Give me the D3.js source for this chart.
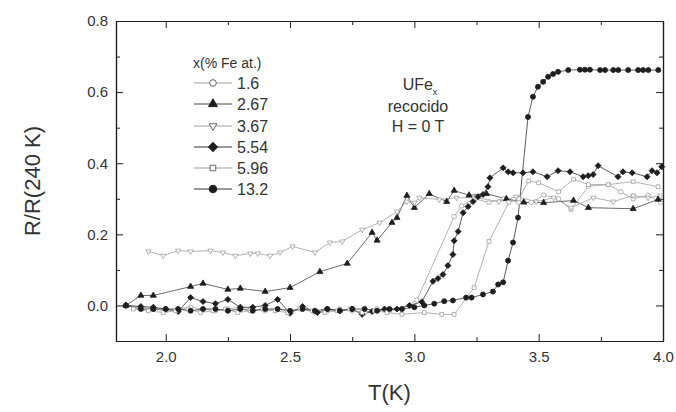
<!DOCTYPE html>
<html>
<head>
<meta charset="utf-8">
<script src="https://cdn.jsdelivr.net/npm/d3@7"></script>
<style>
  html, body { margin: 0; padding: 0; background: #fff; }
  svg { display: block; font-family: "Liberation Sans", Arial, sans-serif; }
</style>
</head>
<body>
<svg id="chart" width="676" height="412"></svg>
<script>
// ---------------- data ----------------
const seriesNames = ["1.6", "2.67", "3.67", "5.54", "5.96", "13.2"];

const t16  = [1.84,1.90,1.95,2.00,2.05,2.10,2.15,2.20,2.25,2.30,2.35,2.40,2.45,2.50,2.55,2.60,2.65,2.70,2.75,2.80,2.85,2.90,2.95,3.01,3.16,3.19,3.24,3.30,3.36,3.42,3.47,3.52,3.58,3.63,3.70,3.78,3.83,3.88,3.94,3.99];
const r16  = [0.00,-0.005,-0.01,-0.015,-0.01,-0.005,-0.01,-0.015,-0.01,-0.005,-0.01,-0.015,-0.01,-0.015,-0.01,-0.02,-0.015,-0.01,-0.015,-0.02,-0.01,-0.015,-0.01,0.015,0.25,0.28,0.30,0.29,0.30,0.29,0.29,0.31,0.30,0.27,0.335,0.34,0.32,0.30,0.31,0.29];

const t267 = [1.84,1.90,1.95,2.10,2.15,2.25,2.30,2.40,2.50,2.62,2.73,2.83,2.85,2.91,2.93,2.97,3.00,3.06,3.13,3.16,3.22,3.29,3.37,3.44,3.52,3.64,3.70,3.88,3.98];
const r267 = [0.00,0.028,0.028,0.053,0.062,0.045,0.048,0.039,0.05,0.095,0.118,0.205,0.183,0.233,0.247,0.309,0.275,0.314,0.292,0.323,0.31,0.314,0.30,0.29,0.289,0.295,0.275,0.272,0.298];

const t367 = [1.93,1.99,2.05,2.10,2.18,2.23,2.28,2.34,2.37,2.42,2.46,2.51,2.60,2.66,2.71,2.79,2.86,2.93,2.97,3.00,3.02,3.10,3.17,3.25,3.34,3.41,3.49,3.56,3.63,3.72,3.80,3.88,3.94,3.99];
const r367 = [0.152,0.14,0.154,0.152,0.154,0.149,0.14,0.146,0.146,0.14,0.149,0.166,0.149,0.177,0.18,0.213,0.233,0.264,0.292,0.289,0.303,0.298,0.303,0.303,0.292,0.306,0.292,0.303,0.275,0.303,0.292,0.309,0.303,0.309];

const t554 = [1.84,1.90,1.95,2.00,2.05,2.10,2.15,2.20,2.25,2.30,2.35,2.40,2.45,2.50,2.55,2.61,2.65,2.70,2.75,2.79,2.83,2.88,2.93,2.98,3.03,3.075,3.095,3.115,3.135,3.155,3.16,3.176,3.196,3.216,3.236,3.256,3.276,3.296,3.304,3.357,3.377,3.397,3.437,3.477,3.534,3.578,3.626,3.679,3.699,3.719,3.739,3.819,3.839,3.876,3.936,3.956,3.976,3.995];
const r554 = [0.00,-0.003,-0.005,-0.01,-0.017,0.022,0.011,0.005,0.017,-0.005,-0.005,0.00,0.017,-0.022,-0.003,-0.02,-0.01,-0.015,-0.01,-0.025,-0.017,-0.01,-0.01,0.00,0.01,0.068,0.076,0.087,0.112,0.143,0.182,0.208,0.261,0.278,0.292,0.306,0.312,0.334,0.359,0.387,0.376,0.373,0.373,0.376,0.362,0.379,0.376,0.362,0.365,0.368,0.393,0.362,0.376,0.373,0.362,0.379,0.373,0.39];

const t596 = [1.87,1.93,1.99,2.04,2.09,2.14,2.19,2.24,2.29,2.34,2.39,2.44,2.49,2.54,2.59,2.64,2.69,2.74,2.79,2.84,2.89,2.95,3.04,3.11,3.16,3.24,3.30,3.38,3.42,3.46,3.50,3.58,3.64,3.70,3.78,3.88,3.98];
const r596 = [-0.01,-0.015,-0.02,-0.015,-0.01,-0.02,-0.015,-0.01,-0.02,-0.015,-0.01,-0.015,-0.02,-0.01,-0.015,-0.02,-0.015,-0.01,-0.02,-0.015,-0.02,-0.025,-0.02,-0.025,-0.025,0.05,0.18,0.29,0.30,0.35,0.345,0.32,0.355,0.34,0.34,0.348,0.334];

const t132 = [1.84,1.90,1.95,2.00,2.05,2.10,2.15,2.20,2.25,2.30,2.35,2.40,2.45,2.50,2.55,2.60,2.65,2.70,2.75,2.80,2.85,2.90,2.95,3.00,3.04,3.08,3.12,3.155,3.208,3.23,3.276,3.316,3.337,3.357,3.377,3.397,3.417,3.457,3.477,3.497,3.518,3.538,3.558,3.578,3.619,3.666,3.686,3.706,3.747,3.767,3.80,3.82,3.86,3.90,3.92,3.941,3.981];
const r132 = [0.00,-0.01,-0.01,-0.01,-0.01,-0.015,-0.01,-0.01,-0.015,-0.01,-0.015,-0.01,-0.01,-0.015,-0.01,-0.015,-0.01,-0.015,-0.01,-0.01,-0.015,-0.01,-0.01,-0.005,0.00,0.005,0.012,0.014,0.022,0.022,0.031,0.039,0.059,0.065,0.126,0.177,0.247,0.53,0.587,0.615,0.629,0.643,0.651,0.657,0.662,0.663,0.663,0.663,0.662,0.662,0.662,0.662,0.662,0.662,0.662,0.662,0.662];

const xTicks = [2.0, 2.5, 3.0, 3.5, 4.0];
const xMinorTicks = [2.25, 2.75, 3.25, 3.75];
const yTicks = [0.0, 0.2, 0.4, 0.6, 0.8];
const yMinorTicks = [-0.1, 0.1, 0.3, 0.5, 0.7];
const legendTitle = "x(% Fe at.)";
const annotation = ["recocido", "H = 0 T"];

// ---------------- scales ----------------
const x = d3.scaleLinear().domain([1.8, 4.0]).range([116, 663]);
const y = d3.scaleLinear().domain([-0.1, 0.8]).range([341, 21]);

const svg = d3.select("#chart");
const ink = "#1e1e1e";
const grey = "#a0a0a0";

const styles = [
  {t: t16,  r: r16,  shape: d3.symbolCircle,   rot: 0,   fill: "#fff", stroke: grey, line: grey,  size: 16},
  {t: t267, r: r267, shape: d3.symbolTriangle, rot: 0,   fill: ink,    stroke: ink,  line: "#444", size: 16},
  {t: t367, r: r367, shape: d3.symbolTriangle, rot: 180, fill: "#fff", stroke: grey, line: grey,  size: 12},
  {t: t554, r: r554, shape: d3.symbolSquare,   rot: 45,  fill: ink,    stroke: ink,  line: "#333", size: 18},
  {t: t596, r: r596, shape: d3.symbolSquare,   rot: 0,   fill: "#fff", stroke: grey, line: grey,  size: 14},
  {t: t132, r: r132, shape: d3.symbolCircle,   rot: 0,   fill: ink,    stroke: ink,  line: "#333", size: 20}
];

// ---------------- axes ----------------
function styleAxis(g) {
  g.selectAll("path.domain").attr("stroke", ink).attr("stroke-width", 1.2);
  g.selectAll(".tick line").attr("stroke", ink).attr("stroke-width", 1);
  g.selectAll(".tick text").attr("fill", "#333").style("font-size", "15px")
    .style("font-family", "'Liberation Sans', Arial, sans-serif");
}
const fmt = d3.format(".1f");

svg.append("g").attr("transform", `translate(0,${y(-0.1)})`)
  .call(d3.axisBottom(x).tickValues(xTicks).tickFormat(fmt).tickSizeInner(-7).tickSizeOuter(0).tickPadding(10))
  .call(styleAxis);
svg.append("g").attr("transform", `translate(0,${y(-0.1)})`)
  .call(d3.axisBottom(x).tickValues(xMinorTicks).tickFormat("").tickSizeInner(-4).tickSizeOuter(0))
  .call(styleAxis);
svg.append("g").attr("transform", `translate(0,${y(0.8)})`)
  .call(d3.axisTop(x).tickValues(xTicks).tickFormat("").tickSizeInner(-7).tickSizeOuter(0))
  .call(styleAxis);
svg.append("g").attr("transform", `translate(0,${y(0.8)})`)
  .call(d3.axisTop(x).tickValues(xMinorTicks).tickFormat("").tickSizeInner(-4).tickSizeOuter(0))
  .call(styleAxis);

svg.append("g").attr("transform", `translate(${x(1.8)},0)`)
  .call(d3.axisLeft(y).tickValues(yTicks).tickFormat(fmt).tickSizeInner(-7).tickSizeOuter(0).tickPadding(8))
  .call(styleAxis);
svg.append("g").attr("transform", `translate(${x(1.8)},0)`)
  .call(d3.axisLeft(y).tickValues(yMinorTicks).tickFormat("").tickSizeInner(-4).tickSizeOuter(0))
  .call(styleAxis);
svg.append("g").attr("transform", `translate(${x(4.0)},0)`)
  .call(d3.axisRight(y).tickValues(yTicks).tickFormat("").tickSizeInner(-7).tickSizeOuter(0))
  .call(styleAxis);
svg.append("g").attr("transform", `translate(${x(4.0)},0)`)
  .call(d3.axisRight(y).tickValues(yMinorTicks).tickFormat("").tickSizeInner(-4).tickSizeOuter(0))
  .call(styleAxis);

// axis titles
svg.append("text")
  .attr("transform", `translate(40,${(y(-0.1) + y(0.8)) / 2}) rotate(-90)`)
  .attr("text-anchor", "middle")
  .attr("fill", "#333").style("font-size", "22px")
  .text("R/R(240 K)");
svg.append("text")
  .attr("x", (x(1.8) + x(4.0)) / 2).attr("y", 400)
  .attr("text-anchor", "middle")
  .attr("fill", "#333").style("font-size", "22px")
  .text("T(K)");

// ---------------- series ----------------
const line = d3.line().x(d => x(d[0])).y(d => y(d[1]));
const plot = svg.append("g");

styles.forEach(s => {
  const pts = s.t.map((t, i) => [t, s.r[i]]);
  plot.append("path").datum(pts)
    .attr("d", line).attr("fill", "none")
    .attr("stroke", s.line).attr("stroke-width", 0.8);
});
styles.forEach(s => {
  const pts = s.t.map((t, i) => [t, s.r[i]]);
  const sym = d3.symbol().type(s.shape).size(s.size);
  plot.selectAll(null).data(pts).enter().append("path")
    .attr("d", sym)
    .attr("transform", d => `translate(${x(d[0])},${y(d[1])}) rotate(${s.rot})`)
    .attr("fill", s.fill).attr("stroke", s.stroke).attr("stroke-width", 0.8);
});

// ---------------- legend ----------------
const lg = svg.append("g");
lg.append("text").attr("x", 193).attr("y", 68)
  .attr("fill", "#333").style("font-size", "14px").text(legendTitle);
const rowY = [83, 104, 126, 147, 168, 189];
styles.forEach((s, i) => {
  const yy = rowY[i];
  lg.append("line").attr("x1", 194).attr("x2", 232).attr("y1", yy).attr("y2", yy)
    .attr("stroke", s.line).attr("stroke-width", 1);
  lg.append("path").attr("d", d3.symbol().type(s.shape).size(s.size * 2.2))
    .attr("transform", `translate(213,${yy}) rotate(${s.rot})`)
    .attr("fill", s.fill).attr("stroke", s.fill === "#fff" ? "#666" : ink).attr("stroke-width", 1);
  lg.append("text").attr("x", 237).attr("y", yy + 5.5)
    .attr("fill", "#333").style("font-size", "16px").text(seriesNames[i]);
});

// ---------------- annotation ----------------
const an = svg.append("text").attr("text-anchor", "middle").attr("fill", "#333").style("font-size", "16px");
an.append("tspan").attr("x", 420).attr("y", 90).text("UFe")
  .append("tspan").attr("baseline-shift", "sub").style("font-size", "9px").text("x");
svg.append("text").attr("text-anchor", "middle").attr("fill", "#333").style("font-size", "16px")
  .attr("x", 418).attr("y", 112).text(annotation[0]);
svg.append("text").attr("text-anchor", "middle").attr("fill", "#333").style("font-size", "16px")
  .attr("x", 418).attr("y", 132).text(annotation[1]);
</script>
</body>
</html>
